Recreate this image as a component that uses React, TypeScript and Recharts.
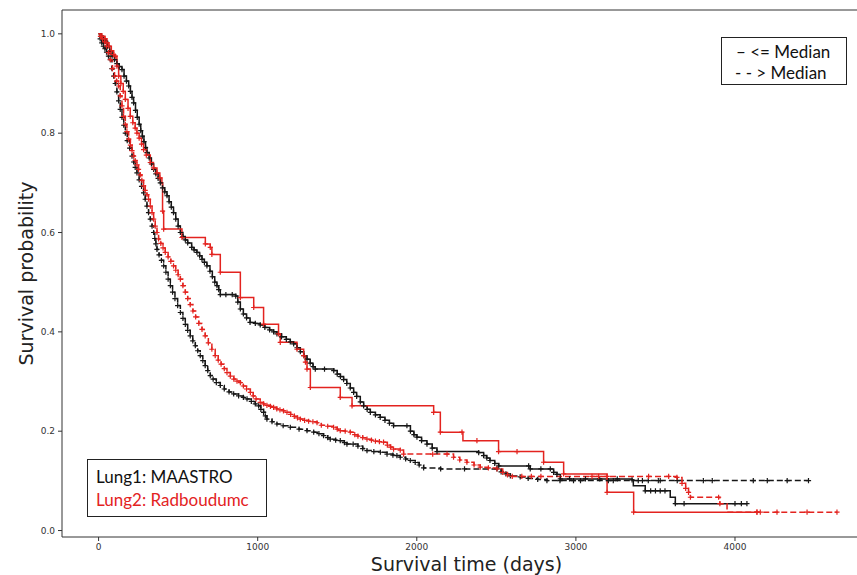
import React from 'react';
import { ComposedChart, Line, XAxis, YAxis, ReferenceLine } from 'recharts';

type Row = [number, number, number]; // [time (days), survival, censored mark 1/0]

// Lung1: MAASTRO, <= Median (black solid)
const lung1Low: Row[] = [
  [0,1,0],[15,0.995,1],[30,0.99,1],[45,0.985,1],[55,0.975,1],[70,0.965,1],[85,0.955,1],[100,0.948,1],[115,0.94,1],[130,0.934,1],[147,0.928,1],[160,0.915,1],[175,0.905,1],[189,0.895,1],[200,0.884,1],[210,0.872,1],[220,0.861,1],[232,0.846,1],[243,0.832,1],[255,0.818,1],[265,0.805,1],[275,0.794,1],[285,0.783,1],[295,0.771,1],[304,0.761,1],[318,0.75,1],[332,0.738,1],[346,0.727,1],[360,0.718,1],[374,0.709,1],[388,0.7,1],[402,0.69,1],[416,0.682,1],[430,0.674,1],[443,0.662,1],[457,0.651,1],[471,0.64,1],[485,0.627,1],[500,0.613,1],[514,0.6,1],[530,0.592,1],[545,0.585,1],[560,0.579,1],[585,0.57,1],[600,0.565,1],[618,0.56,1],[635,0.553,1],[650,0.546,1],[665,0.54,1],[681,0.533,1],[700,0.522,1],[715,0.511,1],[730,0.5,1],[744,0.493,1],[755,0.485,1],[765,0.475,1],[800,0.475,1],[840,0.475,1],[862,0.472,1],[875,0.46,1],[891,0.446,1],[910,0.436,1],[930,0.428,1],[952,0.419,1],[985,0.417,1],[1016,0.414,1],[1045,0.409,1],[1075,0.404,1],[1100,0.4,1],[1121,0.396,1],[1150,0.39,1],[1180,0.385,1],[1205,0.38,1],[1226,0.376,1],[1247,0.368,1],[1268,0.36,1],[1290,0.352,1],[1310,0.345,1],[1330,0.337,1],[1348,0.33,1],[1362,0.325,1],[1420,0.325,1],[1478,0.322,1],[1500,0.315,1],[1520,0.31,1],[1540,0.304,1],[1560,0.296,1],[1582,0.287,1],[1603,0.278,1],[1622,0.27,1],[1645,0.259,1],[1666,0.251,1],[1688,0.244,1],[1708,0.238,1],[1740,0.233,1],[1770,0.228,1],[1800,0.222,1],[1828,0.216,1],[1854,0.211,1],[1938,0.211,1],[1960,0.2,1],[1982,0.193,1],[2001,0.188,1],[2030,0.181,1],[2064,0.174,1],[2097,0.166,1],[2127,0.159,1],[2200,0.159,0],[2389,0.157,1],[2420,0.151,1],[2440,0.146,1],[2460,0.141,1],[2490,0.135,1],[2515,0.13,1],[2600,0.13,0],[2703,0.13,1],[2713,0.124,1],[2780,0.124,1],[2839,0.124,1],[2860,0.117,1],[2881,0.113,1],[2902,0.104,1],[2960,0.104,1],[3060,0.104,1],[3150,0.104,1],[3260,0.104,1],[3353,0.102,1],[3361,0.09,0],[3436,0.08,1],[3470,0.08,1],[3500,0.08,1],[3530,0.08,1],[3560,0.08,1],[3593,0.067,0],[3625,0.054,1],[3680,0.054,1],[4000,0.054,1],[4040,0.054,1],[4075,0.054,1],
];

// Lung1: MAASTRO, > Median (black dashed)
const lung1High: Row[] = [
  [0,1,0],[10,0.99,1],[20,0.982,1],[30,0.975,1],[40,0.97,1],[50,0.963,1],[62,0.955,1],[74,0.948,1],[84,0.93,1],[95,0.915,1],[105,0.9,1],[115,0.883,1],[126,0.865,1],[136,0.848,1],[147,0.832,1],[158,0.816,1],[168,0.8,1],[180,0.785,1],[195,0.77,1],[210,0.754,1],[220,0.742,1],[230,0.731,1],[241,0.72,1],[255,0.706,1],[270,0.693,1],[283,0.68,1],[293,0.667,1],[304,0.653,1],[314,0.64,1],[325,0.627,1],[336,0.613,1],[346,0.6,1],[353,0.588,1],[360,0.577,1],[367,0.566,1],[380,0.555,1],[395,0.544,1],[409,0.533,1],[423,0.52,1],[437,0.506,1],[451,0.493,1],[465,0.48,1],[480,0.467,1],[497,0.453,1],[514,0.439,1],[530,0.427,1],[545,0.415,1],[560,0.403,1],[576,0.392,1],[592,0.382,1],[608,0.372,1],[623,0.362,1],[639,0.352,1],[655,0.342,1],[670,0.332,1],[686,0.322,1],[702,0.312,1],[720,0.305,1],[740,0.298,1],[765,0.292,1],[790,0.285,1],[820,0.279,1],[849,0.275,1],[880,0.271,1],[910,0.268,1],[933,0.265,1],[960,0.26,1],[985,0.255,1],[1006,0.251,1],[1020,0.244,1],[1037,0.238,1],[1048,0.231,1],[1058,0.2245,1],[1090,0.219,1],[1121,0.2145,1],[1160,0.211,1],[1205,0.208,1],[1260,0.204,1],[1310,0.201,1],[1352,0.198,1],[1385,0.195,1],[1414,0.191,1],[1440,0.187,1],[1456,0.184,1],[1490,0.182,1],[1519,0.181,1],[1545,0.177,1],[1561,0.174,1],[1600,0.174,1],[1630,0.17,1],[1660,0.165,1],[1687,0.161,1],[1730,0.159,1],[1771,0.1576,1],[1813,0.154,1],[1850,0.152,1],[1875,0.151,1],[1896,0.1476,1],[1930,0.144,1],[1959,0.141,1],[1990,0.137,1],[2015,0.132,1],[2043,0.126,1],[2150,0.124,1],[2300,0.124,1],[2504,0.124,1],[2530,0.118,1],[2560,0.114,1],[2588,0.11,1],[2650,0.108,1],[2700,0.105,1],[2760,0.103,1],[2818,0.1005,1],[2900,0.1005,1],[2985,0.1005,1],[3029,0.1005,1],[3204,0.1005,1],[3235,0.1005,1],[3392,0.1005,1],[3418,0.1005,1],[3455,0.1005,1],[3518,0.1005,1],[3530,0.1005,1],[3637,0.1005,1],[3801,0.1005,1],[3857,0.1005,1],[4115,0.1005,1],[4203,0.1005,1],[4328,0.1005,1],[4462,0.1005,1],
];

// Lung2: Radboudumc, <= Median (red solid)
const lung2Low: Row[] = [
  [0,1,0],[20,0.995,1],[40,0.99,1],[52,0.982,1],[65,0.975,1],[80,0.966,1],[95,0.958,1],[105,0.955,1],[115,0.935,1],[126,0.915,1],[140,0.9,1],[155,0.884,1],[168,0.868,1],[185,0.85,1],[199,0.834,1],[215,0.821,1],[230,0.81,1],[241,0.8,1],[255,0.79,1],[270,0.778,1],[283,0.767,1],[300,0.756,1],[325,0.741,1],[345,0.73,1],[367,0.72,1],[385,0.71,1],[398,0.7,0],[402,0.643,1],[409,0.607,1],[524,0.59,1],[671,0.577,1],[702,0.57,1],[712,0.556,1],[765,0.52,1],[891,0.469,1],[975,0.449,1],[1037,0.4155,1],[1131,0.396,1],[1142,0.379,1],[1247,0.365,1],[1289,0.352,1],[1300,0.339,1],[1310,0.325,1],[1331,0.288,1],[1519,0.268,1],[1593,0.251,1],[2106,0.238,1],[2148,0.198,1],[2284,0.198,1],[2290,0.181,0],[2378,0.181,1],[2514,0.159,1],[2630,0.159,1],[2797,0.1375,1],[2923,0.114,1],[3196,0.077,1],[3363,0.037,1],[4138,0.037,1],
];

// Lung2: Radboudumc, > Median (red dashed)
const lung2High: Row[] = [
  [0,1,0],[12,0.995,1],[25,0.99,1],[38,0.984,1],[50,0.975,1],[62,0.962,1],[74,0.948,1],[87,0.93,1],[100,0.915,1],[113,0.905,1],[126,0.895,1],[136,0.875,1],[147,0.855,1],[157,0.834,1],[168,0.818,1],[178,0.803,1],[189,0.788,1],[200,0.776,1],[210,0.765,1],[220,0.754,1],[230,0.745,1],[241,0.736,1],[251,0.727,1],[262,0.716,1],[272,0.705,1],[283,0.694,1],[293,0.685,1],[304,0.676,1],[314,0.667,1],[325,0.653,1],[336,0.64,1],[346,0.627,1],[356,0.613,1],[367,0.6,1],[377,0.587,1],[391,0.578,1],[405,0.569,1],[419,0.56,1],[437,0.551,1],[454,0.542,1],[471,0.533,1],[485,0.524,1],[500,0.515,1],[514,0.506,1],[530,0.493,1],[545,0.48,1],[560,0.467,1],[576,0.455,1],[593,0.442,1],[610,0.43,1],[630,0.417,1],[650,0.405,1],[670,0.392,1],[690,0.378,1],[712,0.365,1],[733,0.352,1],[752,0.343,1],[770,0.335,1],[790,0.326,1],[807,0.318,1],[828,0.311,1],[850,0.305,1],[870,0.301,1],[891,0.298,1],[910,0.291,1],[930,0.285,1],[954,0.278,1],[972,0.271,1],[990,0.265,1],[1016,0.258,1],[1037,0.255,1],[1058,0.252,1],[1080,0.25,1],[1100,0.248,1],[1120,0.245,1],[1140,0.243,1],[1162,0.241,1],[1184,0.238,1],[1207,0.234,1],[1230,0.23,1],[1250,0.227,1],[1268,0.2245,1],[1295,0.222,1],[1320,0.22,1],[1347,0.219,1],[1373,0.217,1],[1400,0.212,1],[1440,0.21,1],[1477,0.208,1],[1500,0.204,1],[1519,0.201,1],[1550,0.2,1],[1582,0.198,1],[1610,0.193,1],[1630,0.19,1],[1660,0.187,1],[1687,0.184,1],[1715,0.182,1],[1740,0.18,1],[1765,0.179,1],[1791,0.178,1],[1815,0.172,1],[1835,0.168,1],[1854,0.164,1],[1896,0.162,1],[1917,0.154,1],[2000,0.154,0],[2100,0.154,1],[2190,0.154,1],[2231,0.1476,1],[2270,0.142,1],[2315,0.1375,1],[2360,0.132,1],[2399,0.1275,1],[2450,0.126,1],[2504,0.124,1],[2540,0.117,1],[2570,0.112,1],[2600,0.109,1],[2660,0.109,1],[2720,0.109,1],[2780,0.109,1],[2850,0.109,0],[3101,0.109,1],[3143,0.109,1],[3196,0.109,1],[3300,0.109,0],[3457,0.109,1],[3583,0.109,1],[3635,0.107,1],[3667,0.095,1],[3690,0.085,1],[3708,0.077,1],[3720,0.067,1],[3897,0.067,1],[3905,0.054,1],[3950,0.037,0],[4138,0.037,1],[4159,0.037,1],[4264,0.037,1],[4453,0.037,1],[4641,0.037,1],
];

const xTicks = [0, 1000, 2000, 3000, 4000];
const yTicks = [0, 0.2, 0.4, 0.6, 0.8, 1.0];
const xDomain: [number, number] = [-230, 4880];
const yDomain: [number, number] = [-0.013, 1.048];

const toPoints = (rows: Row[]) => rows.map(([t, s, c]) => ({ t, s, c }));

const BLACK = '#161616';
const RED = '#e3231f';
const TICK_FONT = { fontSize: 9, fill: '#333', fontFamily: 'DejaVu Sans' };

const plusDot = (color: string, id: string) => (props: any) => {
  const { cx, cy, payload, index } = props;
  if (!payload || payload.c !== 1 || cx == null || cy == null) {
    return <g key={`${id}-n-${index}`} />;
  }
  return (
    <path
      key={`${id}-p-${index}`}
      d={`M${cx - 2.6},${cy}H${cx + 2.6}M${cx},${cy - 2.6}V${cy + 2.6}`}
      stroke={color}
      strokeWidth={1.2}
      fill="none"
    />
  );
};

const series = [
  { id: 'l1low', rows: lung1Low, color: BLACK, dash: undefined as string | undefined },
  { id: 'l1high', rows: lung1High, color: BLACK, dash: '6 3' },
  { id: 'l2low', rows: lung2Low, color: RED, dash: undefined as string | undefined },
  { id: 'l2high', rows: lung2High, color: RED, dash: '6 3' },
];

const textBase: React.CSSProperties = { position: 'absolute', whiteSpace: 'nowrap', margin: 0 };

export default function App() {
  return (
    <div
      style={{
        position: 'fixed', left: 0, top: 0, width: 857, height: 575,
        overflow: 'hidden', background: '#fff',
      }}
    >
      <ComposedChart width={880} height={575} margin={{ top: 10, right: 5, bottom: 0, left: 0 }}>
        <XAxis
          type="number" dataKey="t" domain={xDomain} allowDataOverflow ticks={xTicks}
          height={38} tickSize={4} tickMargin={3} tick={TICK_FONT}
          axisLine={{ stroke: '#333' }} tickLine={{ stroke: '#333' }}
        />
        <YAxis
          type="number" domain={yDomain} allowDataOverflow ticks={yTicks} width={62}
          tickSize={4} tickMargin={3} tick={TICK_FONT}
          tickFormatter={(v: number) => v.toFixed(1)}
          axisLine={{ stroke: '#333' }} tickLine={{ stroke: '#333' }}
        />
        <ReferenceLine y={yDomain[1]} stroke="#333" strokeWidth={1} ifOverflow="visible" />
        {series.map((s) => (
          <Line
            key={s.id}
            data={toPoints(s.rows)}
            dataKey="s"
            type="stepAfter"
            stroke={s.color}
            strokeWidth={1.5}
            strokeDasharray={s.dash}
            dot={plusDot(s.color, s.id)}
            activeDot={false}
            isAnimationActive={false}
          />
        ))}
      </ComposedChart>

      {/* axis titles */}
      <div
        style={{
          ...textBase, left: 366, top: 555, width: 201, textAlign: 'center',
          fontFamily: 'DejaVu Sans', fontSize: 19, lineHeight: '19px', color: '#222',
        }}
      >
        Survival time (days)
      </div>
      <div
        style={{
          ...textBase, left: -73.6, top: 264, width: 200, textAlign: 'center',
          transform: 'rotate(-90deg)',
          fontFamily: 'DejaVu Sans', fontSize: 19, lineHeight: '19px', color: '#222',
        }}
      >
        Survival probability
      </div>

      {/* line-style legend (top right) */}
      <div
        style={{
          position: 'absolute', left: 721, top: 37, width: 126, height: 48,
          boxSizing: 'border-box', border: '1.5px solid #222', background: '#fff',
        }}
      />
      <div style={{ ...textBase, left: 736, top: 41.5, fontFamily: 'Lato', fontSize: 17, lineHeight: '20px', color: '#111' }}>
        – &lt;= Median
      </div>
      <div style={{ ...textBase, left: 735, top: 63, fontFamily: 'Lato', fontSize: 17, lineHeight: '20px', color: '#111' }}>
        - - &gt; Median
      </div>

      {/* cohort legend (bottom left) */}
      <div
        style={{
          position: 'absolute', left: 87, top: 459, width: 180, height: 58,
          boxSizing: 'border-box', border: '1.5px solid #222', background: '#fff',
        }}
      />
      <div style={{ ...textBase, left: 96, top: 466, fontFamily: 'Lato', fontSize: 17, lineHeight: '21px', color: '#111' }}>
        Lung1: MAASTRO
      </div>
      <div style={{ ...textBase, left: 96, top: 489, fontFamily: 'Lato', fontSize: 17, lineHeight: '21px', color: RED }}>
        Lung2: Radboudumc
      </div>
    </div>
  );
}
